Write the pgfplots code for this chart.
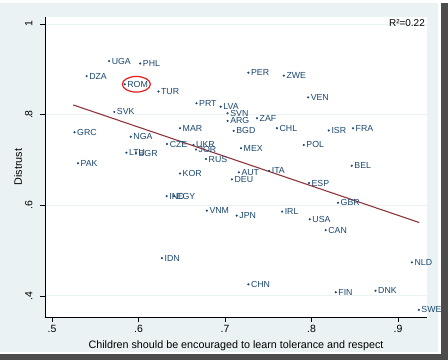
\documentclass[border=0pt]{standalone}
\usepackage{pgfplots}
\pgfplotsset{compat=1.18}
\usepackage{fontspec}
\setmainfont{Liberation Sans}
\definecolor{navy}{RGB}{26,71,111}
\definecolor{maroon}{RGB}{144,53,59}
\definecolor{bgblue}{RGB}{234,242,243}
\definecolor{annred}{RGB}{228,30,30}
\begin{document}
\begin{tikzpicture}
\useasboundingbox (0,0) rectangle (448bp,360bp);
\fill[white] (0,0) rectangle (448bp,360bp);
\fill[bgblue] (0,8bp) rectangle (438bp,357bp);
\fill[black!70] (441bp,0) rectangle (448bp,357bp);
\fill[black!70] (0,0) rectangle (448bp,6bp);
\begin{axis}[
  at={(45bp,43bp)}, anchor=south west,
  scale only axis, width=382bp, height=300bp,
  xmin=0.4919, xmax=0.9335, ymin=0.3532, ymax=1.0155,
  axis x line*=bottom, axis y line*=left,
  axis line style={black, line width=0.6bp},
  axis background/.style={fill=white},
  clip=false,
  xtick={0.5,0.6,0.7,0.8,0.9}, xticklabels={.5,.6,.7,.8,.9},
  ytick={0.4,0.6,0.8,1}, yticklabels={.4,.6,.8,1},
  tick align=outside, major tick length=5bp,
  tick style={black, line width=0.6bp},
  ymajorgrids, grid style={bgblue, line width=0.8bp},
  /pgf/number format/assume math mode=true,
  ticklabel style={font=\fontsize{10.5}{12}\selectfont},
  yticklabel style={rotate=90, anchor=south, yshift=4bp},
  xlabel={Children should be encouraged to learn tolerance and respect},
  ylabel={Distrust},
  label style={font=\fontsize{10.8}{13}\selectfont},
  xlabel style={at={(axis description cs:0.5,0)}, anchor=center, yshift=-29bp},
  ylabel style={at={(axis description cs:0,0.5)}, anchor=center, rotate=0, yshift=27bp},
]
\addplot[only marks, mark=*, mark size=0.85bp, navy,
  nodes near coords, point meta=explicit symbolic,
  every node near coord/.append style={anchor=west, font=\fontsize{8.8}{10}\selectfont, text=navy, inner sep=0pt, xshift=2.5bp}]
  table[meta=label] {
x y label
0.566 0.918 UGA
0.602 0.913 PHL
0.540 0.885 DZA
0.584 0.867 ROM
0.623 0.851 TUR
0.572 0.806 SVK
0.727 0.8925 PER
0.768 0.886 ZWE
0.796 0.838 VEN
0.667 0.825 PRT
0.695 0.8175 LVA
0.703 0.803 SVN
0.703 0.786 ARG
0.737 0.792 ZAF
0.710 0.764 BGD
0.760 0.770 CHL
0.820 0.765 ISR
0.848 0.770 FRA
0.648 0.770 MAR
0.526 0.761 GRC
0.591 0.751 NGA
0.791 0.733 POL
0.633 0.735 CZE
0.6636 0.733 UKR
0.6665 0.723 JOR
0.7185 0.7256 MEX
0.586 0.716 LTU
0.597 0.715 BGR
0.678 0.702 RUS
0.530 0.6925 PAK
0.8465 0.687 BEL
0.751 0.676 ITA
0.716 0.6726 AUT
0.648 0.670 KOR
0.708 0.657 DEU
0.797 0.649 ESP
0.6326 0.620 IND
0.641 0.620 EGY
0.8306 0.6055 GBR
0.679 0.588 VNM
0.766 0.586 IRL
0.7135 0.577 JPN
0.798 0.569 USA
0.8164 0.545 CAN
0.627 0.483 IDN
0.916 0.474 NLD
0.727 0.4254 CHN
0.874 0.411 DNK
0.828 0.4077 FIN
0.924 0.369 SWE
};
\addplot[maroon, line width=1.1bp] coordinates {(0.5246,0.8213) (0.9246,0.5617)};
\draw[annred, line width=1.2bp] (axis cs:0.5975,0.867) ellipse [x radius=14bp, y radius=7.8bp];
\node[anchor=north east, inner sep=0pt, font=\fontsize{10}{12}\selectfont] at (rel axis cs:1,1) [xshift=-2bp, yshift=-2bp] {R²=0.22};
\end{axis}
\end{tikzpicture}
\end{document}
